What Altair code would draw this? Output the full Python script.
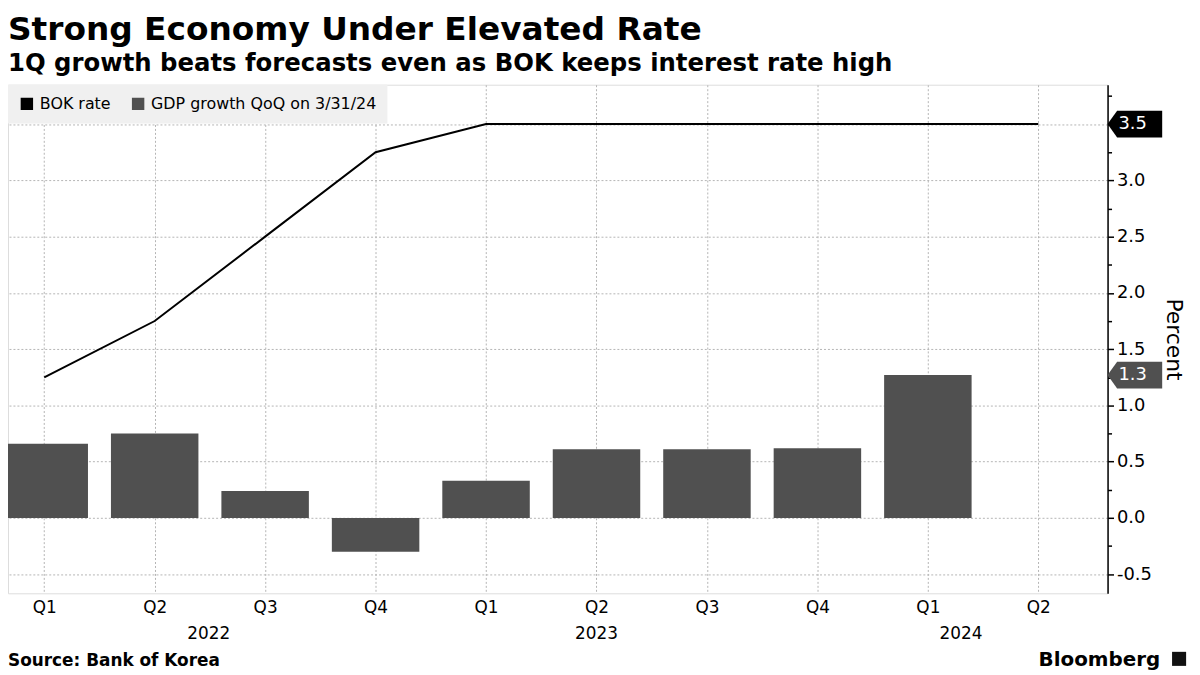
import altair as alt
import pandas as pd

# ---- data ----
quarters = ["Q1", "Q2", "Q3", "Q4", "Q1", "Q2", "Q3", "Q4", "Q1", "Q2"]
bok_rate = [1.25, 1.75, 2.5, 3.25, 3.5, 3.5, 3.5, 3.5, 3.5, 3.5]
gdp_growth = [0.66, 0.75, 0.24, -0.30, 0.33, 0.61, 0.61, 0.62, 1.27]
years = ["2022", "2023", "2024"]
year_pos = [1.49, 5.0, 8.3]
series = ["BOK rate", "GDP growth QoQ on 3/31/24"]
colors = ["#000000", "#505050"]
y_tick_vals = [-0.5, -0.25, 0.0, 0.25, 0.5, 0.75, 1.0, 1.25, 1.5, 1.75,
               2.0, 2.25, 2.5, 2.75, 3.0, 3.25, 3.5, 3.75]
title_text = "Strong Economy Under Elevated Rate"
subtitle_text = "1Q growth beats forecasts even as BOK keeps interest rate high"
source_note = ["Source:  Bank of Korea"]
brand = ["Bloomberg"]

W, H = 1107, 512
FONT = "DejaVu Sans"

line_df = pd.DataFrame({"i": list(range(len(bok_rate))), "v": bok_rate, "series": series[0]})
bar_df = pd.DataFrame({"i": list(range(len(gdp_growth))), "v": gdp_growth, "series": series[1]})
tag_df = pd.DataFrame({"v": [bok_rate[-1], gdp_growth[-1]], "series": series})
year_df = pd.DataFrame({"pos": year_pos, "label": years})
src_df = pd.DataFrame({"t": source_note})
brand_df = pd.DataFrame({"t": brand})

xscale = alt.Scale(domain=[-0.328, 9.627], nice=False, zero=False)
yscale = alt.Scale(domain=[-0.67, 3.85], nice=False, zero=False)
color_scale = alt.Scale(domain=series, range=colors)

GRID = "#b4b4b4"

q_arr = "[" + ",".join("'" + q + "'" for q in quarters) + "]"
x_axis = alt.Axis(values=list(range(len(quarters))), labelExpr=q_arr + "[datum.value]",
                  grid=True, gridDash=[2, 2], gridColor=GRID, domain=False, ticks=False,
                  labelPadding=6, labelFontSize=17, labelFont=FONT, labelColor="black",
                  title=None, zindex=0)

minor = "abs(datum.value*2 - round(datum.value*2)) > 0.01"
y_axis = alt.Axis(orient="right", values=y_tick_vals,
                  labelExpr=minor + " ? '' : replace(format(datum.value, '.1f'), '\u2212', '-')",
                  title="Percent", titleFontSize=22, titleFont=FONT, titleFontWeight="normal",
                  titleColor="black", titlePadding=10, titleAngle=90,
                  grid=True, gridDash=[2, 2], gridColor=GRID,
                  gridOpacity={"condition": {"test": minor, "value": 0}, "value": 1},
                  domain=True, domainColor="black", domainWidth=1.5,
                  ticks=True, tickColor="black", tickWidth=1.5,
                  tickSize={"condition": {"test": minor, "value": 4}, "value": 6},
                  labelFontSize=18, labelFont=FONT, labelColor="black", labelPadding=3,
                  zindex=0)

legend = alt.Legend(title=None, orient="top-left", direction="horizontal",
                    fillColor="#f0f0f0", padding=11, offset=0, symbolType="square",
                    symbolSize=121, labelFontSize=16, labelFont=FONT, labelColor="black",
                    columnPadding=18, labelOffset=5, labelLimit=0)

bars = alt.Chart(bar_df).transform_calculate(
    x0="datum.i - 0.396", x1="datum.i + 0.396"
).mark_bar(clip=True).encode(
    x=alt.X("x0:Q", scale=xscale, axis=x_axis),
    x2="x1:Q",
    y=alt.Y("v:Q", scale=yscale, axis=y_axis),
    y2=alt.datum(0),
    color=alt.Color("series:N", scale=color_scale, legend=legend),
)

line = alt.Chart(line_df).mark_line(strokeWidth=2, clip=True).encode(
    x=alt.X("i:Q", scale=xscale, axis=x_axis),
    y=alt.Y("v:Q", scale=yscale, axis=y_axis),
    color=alt.Color("series:N", scale=color_scale, legend=legend),
)

tag_shape = "M-1,0L-0.65,-0.49L1,-0.49L1,0.49L-0.65,0.49Z"
tags = alt.Chart(tag_df).mark_point(shape=tag_shape, filled=True, size=3025, opacity=1,
                                    strokeWidth=0, clip=False).encode(
    x=alt.value(W + 27.5),
    y=alt.Y("v:Q", scale=yscale, axis=y_axis),
    fill=alt.Fill("series:N", scale=alt.Scale(domain=series, range=colors), legend=None),
)

tag_text = alt.Chart(tag_df).mark_text(align="left", baseline="middle", color="white",
                                       fontSize=18, font=FONT, clip=False).encode(
    x=alt.value(W + 11),
    y=alt.Y("v:Q", scale=yscale, axis=y_axis),
    text=alt.Text("v:Q", format=".1f"),
)

year_text = alt.Chart(year_df).mark_text(baseline="alphabetic", fontSize=17, font=FONT,
                                         color="black", clip=False).encode(
    x=alt.X("pos:Q", scale=xscale, axis=x_axis),
    y=alt.value(H + 46),
    text="label:N",
)

src_text = alt.Chart(src_df).mark_text(align="left", baseline="alphabetic", fontSize=17,
                                       font=FONT, fontWeight="bold", color="black",
                                       clip=False).encode(
    x=alt.value(0), y=alt.value(H + 73), text="t:N")

brand_text = alt.Chart(brand_df).mark_text(align="right", baseline="alphabetic", fontSize=20,
                                           font=FONT, fontWeight="bold", color="black",
                                           clip=False).encode(
    x=alt.value(W + 53), y=alt.value(H + 73), text="t:N")

# small Bloomberg logo glyph next to the brand name
logo = alt.Chart(brand_df).mark_point(shape="square", filled=True, size=200, opacity=1,
                                      color="#111111", clip=False).encode(
    x=alt.value(W + 72), y=alt.value(H + 66))

chart = alt.layer(bars, line, tags, tag_text, year_text, src_text, brand_text, logo).properties(
    width=W, height=H,
    title=alt.TitleParams(text=title_text, subtitle=subtitle_text, anchor="start",
                          frame="group", font=FONT, subtitleFont=FONT, fontSize=33,
                          subtitleFontSize=24.5, fontWeight="bold", subtitleFontWeight="bold",
                          color="black", subtitleColor="black", offset=9,
                          subtitlePadding=6),
    autosize=alt.AutoSizeParams(type="none"),
    padding={"left": 0, "top": 75, "right": 85, "bottom": 80},
).configure_view(stroke=None).configure(background="white")

chart.save("out.html", embed_options={"renderer": "svg", "actions": False})
